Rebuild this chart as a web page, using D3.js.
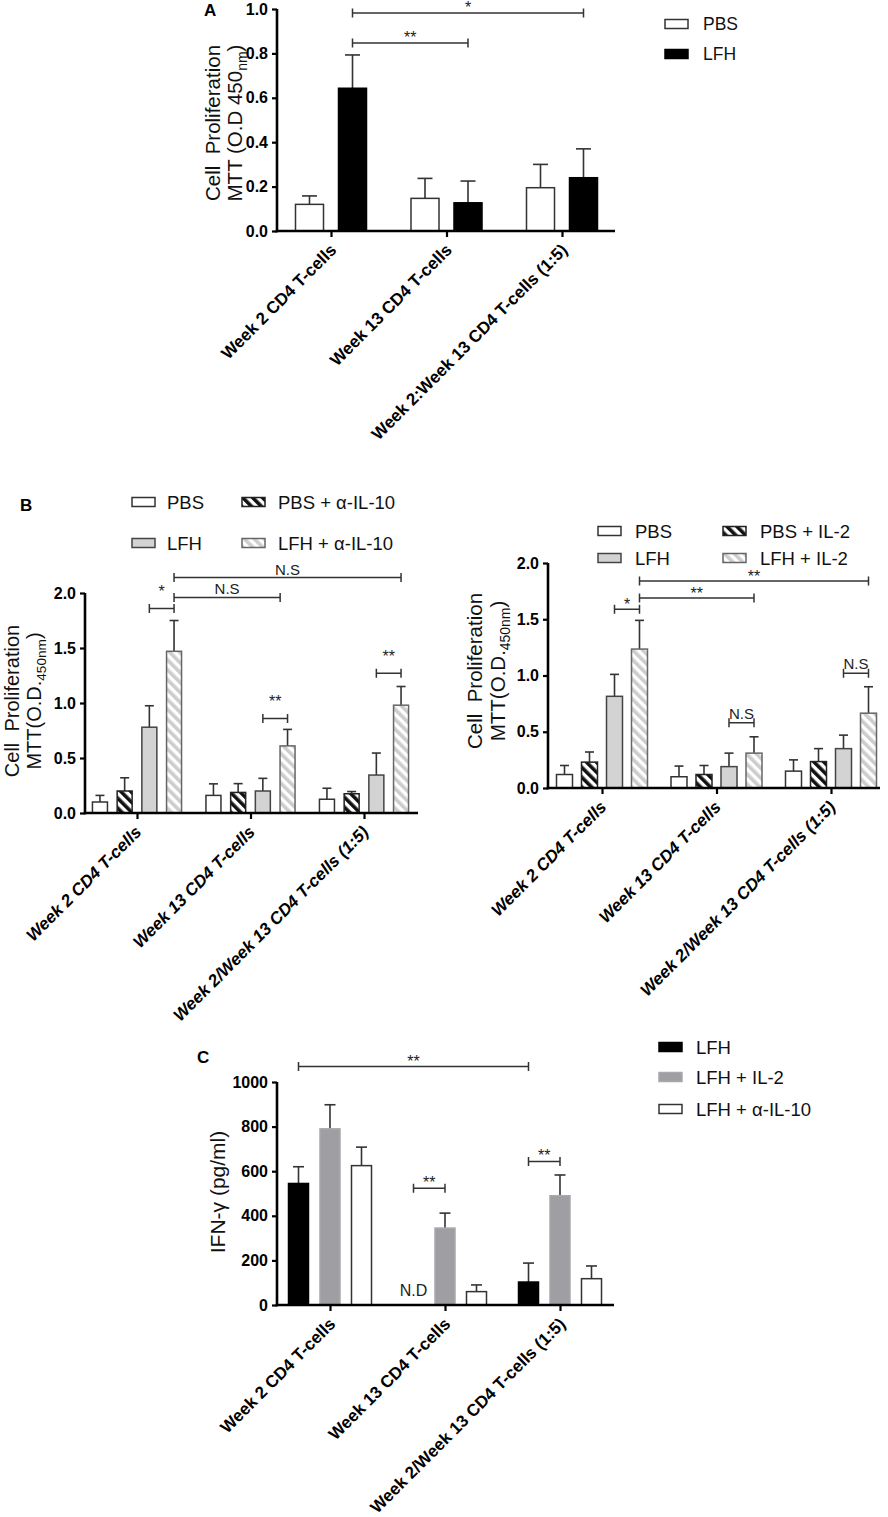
<!DOCTYPE html>
<html><head><meta charset="utf-8">
<script src="https://cdn.jsdelivr.net/npm/d3@7"></script>
<style>
body{margin:0;background:#fff}
svg{display:block}
text{font-family:"Liberation Sans",Arial,sans-serif}
</style>
</head><body>
<svg id="c" width="888" height="1517"></svg>
<script>
// ---------------- DATA ----------------
const catsA = ["Week 2 CD4 T-cells", "Week 13 CD4 T-cells", "Week 2:Week 13 CD4 T-cells (1:5)"];
const catsB = ["Week 2 CD4 T-cells", "Week 13 CD4 T-cells", "Week 2/Week 13 CD4 T-cells (1:5)"];
const catsC = ["Week 2 CD4 T-cells", "Week 13 CD4 T-cells", "Week 2/Week 13 CD4 T-cells (1:5)"];

// Panel A
const aPBS = [0.12, 0.147, 0.195];
const aPBS_sd = [0.038, 0.09, 0.105];
const aLFH = [0.643, 0.127, 0.24];
const aLFH_sd = [0.15, 0.098, 0.13];
const ticksA = [0, 0.2, 0.4, 0.6, 0.8, 1.0];

// Panel B (left, alpha-IL-10)
const blPBS = [0.10, 0.16, 0.125];
const blPBS_sd = [0.06, 0.105, 0.10];
const blPBSa = [0.20, 0.187, 0.175];
const blPBSa_sd = [0.12, 0.08, 0.02];
const blLFH = [0.78, 0.20, 0.345];
const blLFH_sd = [0.195, 0.115, 0.20];
const blLFHa = [1.47, 0.61, 0.98];
const blLFHa_sd = [0.28, 0.15, 0.17];

// Panel B (right, IL-2)
const brPBS = [0.12, 0.10, 0.15];
const brPBS_sd = [0.08, 0.095, 0.10];
const brPBSi = [0.23, 0.12, 0.235];
const brPBSi_sd = [0.09, 0.08, 0.115];
const brLFH = [0.815, 0.19, 0.35];
const brLFH_sd = [0.195, 0.12, 0.12];
const brLFHi = [1.235, 0.31, 0.665];
const brLFHi_sd = [0.255, 0.145, 0.235];
const ticksB = [0, 0.5, 1.0, 1.5, 2.0];

// Panel C (IFN-gamma, pg/ml); null = N.D
const cLFH = [545, null, 103];
const cLFH_sd = [75, 0, 85];
const cIL2 = [790, 345, 490];
const cIL2_sd = [108, 67, 93];
const cAIL10 = [625, 60, 118];
const cAIL10_sd = [83, 30, 57];
const ticksC = [0, 200, 400, 600, 800, 1000];

// Significance brackets: [fromCategory, fromSeries, toCategory, toSeries, level, label]
const sigA = [[0, 1, 1, 1, 0.847, "**"], [0, 1, 2, 1, 0.982, "*"]];
const sigBL = [[0, 2, 0, 3, 1.86, "*"], [0, 3, 1, 2.7, 1.96, "N.S"], [0, 3, 2, 3, 2.14, "N.S"],
               [1, 2, 1, 3, 0.86, "**"], [2, 2, 2, 3, 1.27, "**"]];
const sigBR = [[0, 2, 0, 3, 1.59, "*"], [0, 3, 1, 3, 1.69, "**"], [0, 3, 2, 3, 1.84, "**"],
               [1, 2, 1, 3, 0.58, "N.S"], [2, 2, 2, 3, 1.02, "N.S"]];
const sigC = [[0, 0, 2, 0, 1069, "**"], [1, 0, 1, 1, 523, "**"], [2, 0, 2, 1, 644, "**"]];

// ---------------- DRAWING ----------------
const svg = d3.select("#c");
const defs = svg.append("defs");
function hatch(id, color) {
  const p = defs.append("pattern").attr("id", id).attr("patternUnits", "userSpaceOnUse")
    .attr("width", 7).attr("height", 7).attr("patternTransform", "rotate(-45)");
  p.append("rect").attr("width", 7).attr("height", 7).attr("fill", "#fff");
  p.append("rect").attr("width", 3.6).attr("height", 7).attr("fill", color);
}
hatch("hDark", "#111");
hatch("hLight", "#cdcdcd");

const ST = {
  white: {fill: "#fff", stroke: "#333"},
  black: {fill: "#000", stroke: "#000"},
  lgray: {fill: "#d3d3d3", stroke: "#444"},
  hdark: {fill: "url(#hDark)", stroke: "#222"},
  hlight: {fill: "url(#hLight)", stroke: "#666"},
  mgray: {fill: "#9f9ea3", stroke: "#a9a8ad"}
};

function drawPanel(p) {
  const g = svg.append("g");
  const y = d3.scaleLinear().domain([0, p.yMax]).range([p.y0, p.yTop]);
  const x = d3.scalePoint().domain(p.cats).range([p.t0, p.t2]);
  const n = p.series.length;
  const pad = 1 - p.bw / p.step;
  const xi = d3.scaleBand().domain(d3.range(n)).range([-n * p.step / 2, n * p.step / 2])
    .paddingInner(pad).paddingOuter(pad / 2);
  const bw = xi.bandwidth();
  const cx = (ci, si) => x(p.cats[ci]) + xi(0) + bw / 2 + si * xi.step();

  // bars + error bars
  p.series.forEach((s, si) => {
    s.mean.forEach((v, ci) => {
      if (v == null) return;
      const bx = x(p.cats[ci]) + xi(si);
      const ex = bx + bw / 2, top = y(v + s.sd[ci]);
      g.append("line").attr("x1", ex).attr("x2", ex).attr("y1", y(v)).attr("y2", top)
        .attr("stroke", "#333").attr("stroke-width", 1.6);
      g.append("line").attr("x1", ex - p.cap / 2).attr("x2", ex + p.cap / 2).attr("y1", top).attr("y2", top)
        .attr("stroke", "#333").attr("stroke-width", 1.6);
      g.append("rect").attr("x", bx).attr("y", y(v)).attr("width", bw).attr("height", y(0) - y(v))
        .attr("fill", s.style.fill).attr("stroke", s.style.stroke).attr("stroke-width", 1.5);
    });
  });

  // y axis
  const yg = g.append("g").attr("transform", `translate(${p.xStart},0)`)
    .call(d3.axisLeft(y).tickValues(p.ticks).tickFormat(p.fmt).tickSize(5).tickSizeOuter(0).tickPadding(4));
  yg.select(".domain").attr("stroke", "#000").attr("stroke-width", 2.6)
    .attr("d", `M0,${p.y0 + 1.3}V${p.yTop}`);
  yg.selectAll(".tick line").attr("stroke", "#000").attr("stroke-width", 2.2);
  yg.selectAll(".tick text").attr("font-family", "Liberation Sans, Arial, sans-serif").attr("font-weight", "bold")
    .attr("font-size", 16).attr("fill", "#000");

  // x axis
  const xg = g.append("g").attr("transform", `translate(0,${p.y0})`)
    .call(d3.axisBottom(x).tickSize(6).tickSizeOuter(0));
  xg.select(".domain").attr("stroke", "#000").attr("stroke-width", 2.6)
    .attr("d", `M${p.xStart - 1.3},0H${p.xEnd}`);
  xg.selectAll(".tick line").attr("stroke", "#000").attr("stroke-width", 2.2);
  xg.selectAll(".tick text")
    .attr("x", 0).attr("y", 0).attr("dy", "0.75em")
    .attr("text-anchor", "end")
    .attr("transform", `translate(${p.lx},${p.ly}) rotate(-45)`)
    .attr("font-family", "Liberation Sans, Arial, sans-serif")
    .attr("font-weight", "bold").attr("font-style", p.italic ? "italic" : "normal")
    .attr("font-size", 17).attr("fill", "#000");

  // significance brackets
  p.sig.forEach(([c1, s1, c2, s2, lvl, lab]) => {
    const x1 = cx(c1, s1), x2 = cx(c2, s2), yy = y(lvl);
    g.append("path").attr("d", `M${x1},${yy - 4.5}V${yy + 4.5}M${x1},${yy}H${x2}M${x2},${yy - 4.5}V${yy + 4.5}`)
      .attr("fill", "none").attr("stroke", "#333").attr("stroke-width", 1.5);
    const star = lab.indexOf("*") >= 0;
    g.append("text").attr("x", (x1 + x2) / 2)
      .attr("y", yy - (star ? p.starGap : p.nsGap))
      .attr("text-anchor", "middle")
      .attr("font-family", star ? "DejaVu Sans" : "Liberation Sans, Arial, sans-serif")
      .attr("font-size", star ? 16 : 15).attr("fill", "#222").text(lab);
  });
  return {x, y, cx};
}

function legend(items, x0, ys, tx, size) {
  items.forEach((it, i) => {
    svg.append("rect").attr("x", x0).attr("y", ys[i] - 4.5).attr("width", 23).attr("height", 9)
      .attr("fill", it.style.fill).attr("stroke", it.style.stroke).attr("stroke-width", 1.5);
    svg.append("text").attr("x", tx).attr("y", ys[i]).attr("dy", "0.36em")
      .attr("font-size", size).attr("fill", "#111").text(it.name);
  });
}

function panelLetter(x, y, L) {
  svg.append("text").attr("x", x).attr("y", y)
    .attr("font-weight", "bold").attr("font-size", 17).attr("fill", "#000").text(L);
}

// ---------- Panel A ----------
const seriesA = [
  {name: "PBS", mean: aPBS, sd: aPBS_sd, style: ST.white},
  {name: "LFH", mean: aLFH, sd: aLFH_sd, style: ST.black}
];
drawPanel({cats: catsA, series: seriesA, yMax: 1.0, y0: 231, yTop: 9, ticks: ticksA, fmt: d3.format(".1f"),
  xStart: 277, xEnd: 615, t0: 331, t2: 562, step: 43, bw: 28, cap: 15, lx: -3, ly: 11, italic: false,
  sig: sigA, starGap: 0, nsGap: 3});
legend(seriesA, 665, [24, 54], 703, 17.5);
panelLetter(204, 16, "A");
{
  svg.append("text").attr("transform", "translate(220,123) rotate(-90)").attr("text-anchor", "middle")
    .attr("font-size", 20.5).attr("fill", "#111").style("white-space", "pre").text("Cell  Proliferation");
  const t2 = svg.append("text").attr("transform", "translate(242,123) rotate(-90)").attr("text-anchor", "middle")
    .attr("font-size", 20.5).attr("fill", "#111").style("white-space", "pre");
  t2.append("tspan").text("MTT (O.D 450");
  t2.append("tspan").attr("font-size", 14).attr("dy", 5).text("nm");
  t2.append("tspan").attr("dy", -5).text(")");
}

// ---------- Panel B left ----------
const seriesBL = [
  {name: "PBS", mean: blPBS, sd: blPBS_sd, style: ST.white},
  {name: "PBS + \u03B1-IL-10", mean: blPBSa, sd: blPBSa_sd, style: ST.hdark},
  {name: "LFH", mean: blLFH, sd: blLFH_sd, style: ST.lgray},
  {name: "LFH + \u03B1-IL-10", mean: blLFHa, sd: blLFHa_sd, style: ST.hlight}
];
drawPanel({cats: catsB, series: seriesBL, yMax: 2.0, y0: 813, yTop: 593, ticks: ticksB, fmt: d3.format(".1f"),
  xStart: 85, xEnd: 418, t0: 137, t2: 364, step: 24.7, bw: 15, cap: 9, lx: -4, ly: 11, italic: true,
  sig: sigBL, starGap: 11, nsGap: 3});
legend([seriesBL[0], seriesBL[2]], 132, [502, 543], 167, 18.5);
legend([seriesBL[1], seriesBL[3]], 242, [502, 543], 278, 18.5);
panelLetter(20, 511, "B");

function bTitle(bx1, bx2, cy, size) {
  svg.append("text").attr("transform", `translate(${bx1},${cy}) rotate(-90)`).attr("text-anchor", "middle")
    .attr("font-size", size).attr("fill", "#111").style("white-space", "pre").text("Cell  Proliferation");
  const t2 = svg.append("text").attr("transform", `translate(${bx2},${cy}) rotate(-90)`).attr("text-anchor", "middle")
    .attr("font-size", size).attr("fill", "#111").style("white-space", "pre");
  t2.append("tspan").text("MTT(O.D.");
  t2.append("tspan").attr("font-size", size * 0.68).attr("dy", 5).text("450nm");
  t2.append("tspan").attr("dy", -5).text(")");
}
bTitle(19, 41, 701, 20);

// ---------- Panel B right ----------
const seriesBR = [
  {name: "PBS", mean: brPBS, sd: brPBS_sd, style: ST.white},
  {name: "PBS + IL-2", mean: brPBSi, sd: brPBSi_sd, style: ST.hdark},
  {name: "LFH", mean: brLFH, sd: brLFH_sd, style: ST.lgray},
  {name: "LFH + IL-2", mean: brLFHi, sd: brLFHi_sd, style: ST.hlight}
];
drawPanel({cats: catsB, series: seriesBR, yMax: 2.0, y0: 788, yTop: 563, ticks: ticksB, fmt: d3.format(".1f"),
  xStart: 548, xEnd: 880, t0: 602, t2: 831, step: 25, bw: 16, cap: 9, lx: -4, ly: 11, italic: true,
  sig: sigBR, starGap: -1, nsGap: 4});
legend([seriesBR[0], seriesBR[2]], 598, [531, 558], 635, 18.5);
legend([seriesBR[1], seriesBR[3]], 723, [531, 558], 760, 18.5);
bTitle(482, 505, 671, 20.5);

// ---------- Panel C ----------
const seriesC = [
  {name: "LFH", mean: cLFH, sd: cLFH_sd, style: ST.black},
  {name: "LFH + IL-2", mean: cIL2, sd: cIL2_sd, style: ST.mgray},
  {name: "LFH + \u03B1-IL-10", mean: cAIL10, sd: cAIL10_sd, style: ST.white}
];
const pc = drawPanel({cats: catsC, series: seriesC, yMax: 1000, y0: 1305, yTop: 1082, ticks: ticksC, fmt: d3.format("d"),
  xStart: 277, xEnd: 614, t0: 330, t2: 560, step: 31.5, bw: 20, cap: 11, lx: -3, ly: 11, italic: false,
  sig: sigC, starGap: 0, nsGap: 3});
legend(seriesC, 659, [1047, 1077, 1109], 696, 18.5);
panelLetter(197, 1063, "C");
// N.D marker for missing value
cLFH.forEach((v, ci) => {
  if (v == null) svg.append("text").attr("x", pc.cx(ci, 0)).attr("y", pc.y(0) - 9).attr("text-anchor", "middle")
    .attr("font-size", 16).attr("fill", "#222").text("N.D");
});
svg.append("text").attr("transform", "translate(225,1192) rotate(-90)").attr("text-anchor", "middle")
  .attr("font-size", 21).attr("fill", "#111").style("white-space", "pre").text("IFN-\u03B3 (pg/ml)");
</script>
</body></html>
